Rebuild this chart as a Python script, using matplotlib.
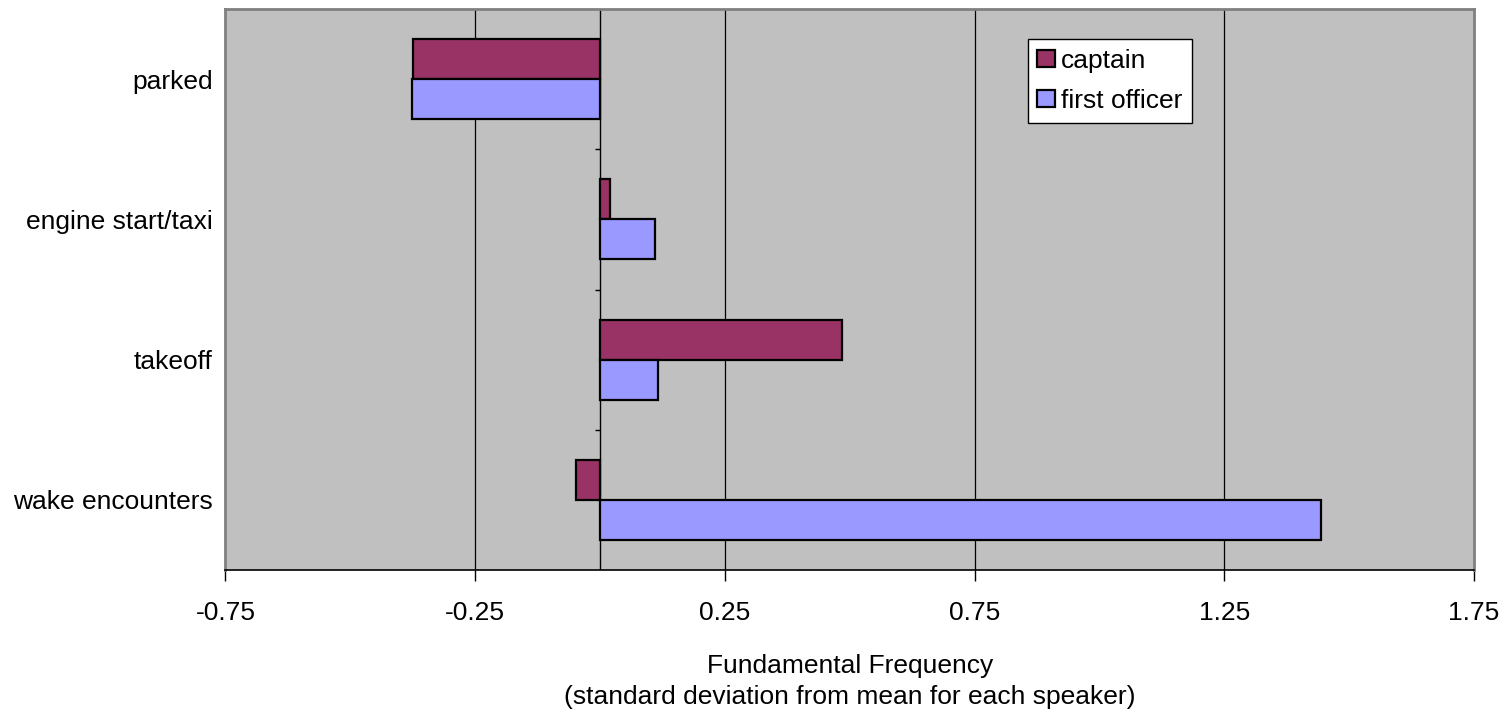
import matplotlib.pyplot as plt
import numpy as np

plt.rcParams['font.family'] = ['Liberation Sans', 'DejaVu Sans']

phases = ['parked', 'engine start/taxi', 'takeoff', 'wake encounters']
captain = [-0.374, 0.019, 0.485, -0.049]
first_officer = [-0.376, 0.111, 0.117, 1.444]
series_names = ['captain', 'first officer']
xticks = [-0.75, -0.25, 0.25, 0.75, 1.25, 1.75]

fs = 19

fig = plt.figure(figsize=(15.08, 7.21), dpi=100)
ax = fig.add_axes([0.1495, 0.2094, 0.828, 0.7781])
ax.set_facecolor('#C0C0C0')

pos = np.arange(len(phases))
h = 0.2857
ax.barh(pos - h / 2, captain, height=h, color='#993366', edgecolor='black',
        linewidth=1.6, label=series_names[0], zorder=3)
ax.barh(pos + h / 2, first_officer, height=h, color='#9999FF', edgecolor='black',
        linewidth=1.6, label=series_names[1], zorder=3)

ax.set_xlim(-0.75, 1.75)
ax.set_ylim(len(phases) - 0.5, -0.5)

# vertical gridlines and the value axis crossing at zero
for x in xticks[1:-1]:
    ax.axvline(x, color='black', lw=0.9, zorder=1)
ax.axvline(0, color='black', lw=1.0, zorder=2)
for b in pos[:-1] + 0.5:
    ax.plot([-0.011, 0], [b, b], color='black', lw=1.0, zorder=2, solid_capstyle='butt')

ax.set_xticks(xticks)
ax.set_xticklabels(['%.2f' % v for v in xticks], fontsize=fs)
ax.set_yticks(pos)
ax.set_yticklabels(phases, fontsize=fs)
ax.tick_params(axis='y', length=0, pad=9)
ax.tick_params(axis='x', length=8, width=1, pad=14)

for s in ['top', 'right', 'left']:
    ax.spines[s].set_color('#808080')
    ax.spines[s].set_linewidth(2)
ax.spines['bottom'].set_color('black')
ax.spines['bottom'].set_linewidth(1.2)

ax.set_xlabel('Fundamental Frequency\n(standard deviation from mean for each speaker)',
              fontsize=fs, labelpad=21, linespacing=1.4)

leg = ax.legend(loc='upper left', bbox_to_anchor=(0.6425, 0.946), fontsize=fs,
                frameon=True, fancybox=False, framealpha=1, edgecolor='black',
                handlelength=0.68, handleheight=0.62, handletextpad=0.22,
                borderpad=0.36, labelspacing=0.62, borderaxespad=0)
leg.get_frame().set_linewidth(1.0)

fig.savefig('out.png', dpi=100)
